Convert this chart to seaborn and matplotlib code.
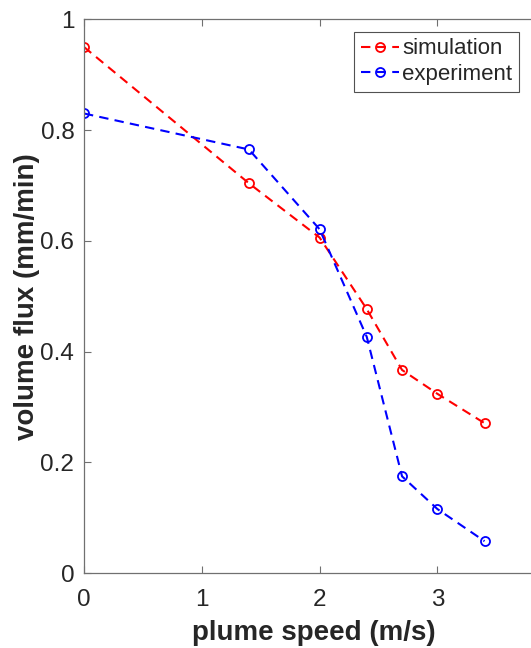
import matplotlib
matplotlib.use("Agg")
import matplotlib.pyplot as plt
import seaborn as sns
import pandas as pd

# plume speed (m/s)
speed = [0.0, 1.4, 2.0, 2.4, 2.7, 3.0, 3.4]
# volume flux (mm/min)
simulation = [0.95, 0.704, 0.606, 0.477, 0.367, 0.324, 0.271]
experiment = [0.83, 0.765, 0.621, 0.427, 0.175, 0.116, 0.058]

series_names = ["simulation", "experiment"]
series_colors = {"simulation": "#ff0000", "experiment": "#0000ff"}

xticks = [0, 1, 2, 3]
yticks = [0, 0.2, 0.4, 0.6, 0.8, 1.0]
ytick_labels = ["0", "0.2", "0.4", "0.6", "0.8", "1"]

df = pd.concat([
    pd.DataFrame({"speed": speed, "flux": simulation, "series": "simulation"}),
    pd.DataFrame({"speed": speed, "flux": experiment, "series": "experiment"}),
])

sns.set_theme(style="white")
plt.rcParams["font.family"] = ["Liberation Sans", "DejaVu Sans"]

fig = plt.figure(figsize=(5.31, 6.48), dpi=100)
# axes box runs past the right edge of the canvas
px_per_unit = 117.8
ax = fig.add_axes([84 / 531, (648 - 573.3) / 648, 3.9 * px_per_unit / 531, 554 / 648])

for name in series_names:
    sub = df[df["series"] == name]
    sns.lineplot(data=sub, x="speed", y="flux", ax=ax, color=series_colors[name],
                 linestyle=(0, (4.5, 3)), linewidth=1.5, marker="o", markersize=6.5,
                 markerfacecolor="none", markeredgecolor=series_colors[name],
                 markeredgewidth=1.3, label=name, sort=False)

ax.set_xlim(0, 3.9)
ax.set_ylim(0, 1)
ax.set_xticks(xticks)
ax.set_xticklabels([str(t) for t in xticks])
ax.set_yticks(yticks)
ax.set_yticklabels(ytick_labels)

text_color = "#262626"
for side, sp in ax.spines.items():
    sp.set_color("#707070")
    sp.set_linewidth(0.9)
ax.spines["right"].set_visible(False)
ax.tick_params(axis="both", which="both", direction="in", length=5, width=0.8,
               color="#707070", labelsize=17.5, labelcolor=text_color,
               top=True, right=False, left=True, bottom=True)
ax.tick_params(axis="x", pad=11)
ax.tick_params(axis="y", pad=7)

ax.set_xlabel("plume speed (m/s)", fontsize=20, fontweight="bold",
              color=text_color, labelpad=7)
ax.set_ylabel("volume flux (mm/min)", fontsize=20, fontweight="bold",
              color=text_color, labelpad=0.5)

# legend anchored by its top-right corner, in axes fractions
leg_right = (519 - 84) / (3.9 * px_per_unit)
leg_top = (573.3 - 31.7) / 554
leg = ax.legend(loc="upper right", bbox_to_anchor=(leg_right, leg_top),
                fontsize=16, frameon=True, fancybox=False, handlelength=1.7,
                handletextpad=0.15, borderpad=0.3, labelspacing=0.22,
                borderaxespad=0)
leg.get_frame().set_edgecolor(text_color)
leg.get_frame().set_linewidth(0.8)
for t in leg.get_texts():
    t.set_color(text_color)

fig.savefig("out.png", dpi=100)
